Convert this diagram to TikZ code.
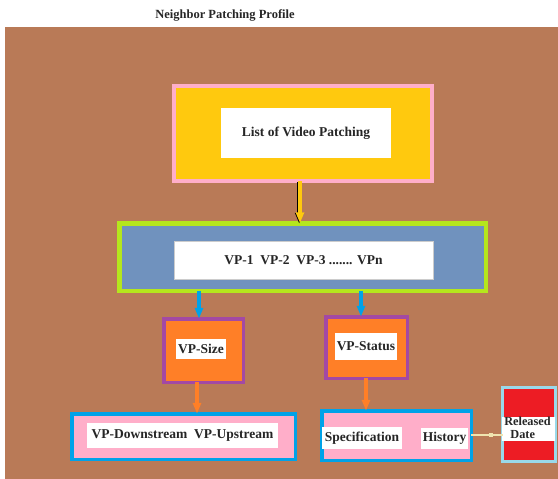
\documentclass[tikz,border=0pt]{standalone}
\usepackage{fontspec}
\setmainfont{Liberation Serif}
\usetikzlibrary{arrows.meta,decorations.markings}

% palette
\definecolor{bgbrown}{HTML}{B97A57}
\definecolor{lightpink}{HTML}{FFAEC9}
\definecolor{gold}{HTML}{FFC90E}
\definecolor{lime}{HTML}{B5E61D}
\definecolor{bluegray}{HTML}{7092BE}
\definecolor{violet}{HTML}{A349A4}
\definecolor{tangerine}{HTML}{FF7F27}
\definecolor{turq}{HTML}{00A2E8}
\definecolor{signalred}{HTML}{ED1C24}
\definecolor{paleturq}{HTML}{99D9EA}
\definecolor{cream}{HTML}{EFE4B0}

\tikzset{
  lbl/.style={font=\fontsize{13.5}{15}\selectfont\bfseries, text=black!85},
  panel/.style={rectangle, inner sep=0pt, outer sep=0pt},
  whitebox/.style={panel, fill=white, lbl},
  flow/.style={line width=3.6pt, -{Triangle[length=11pt,width=8pt]}, shorten <=0pt},
}

\begin{document}
\begin{tikzpicture}[x=1pt, y=-1pt]
\useasboundingbox (0,0) rectangle (558,479);

% backdrop
\fill[bgbrown] (5,27) rectangle (558,479);

% heading
\node[lbl, font=\fontsize{12.5}{14}\selectfont\bfseries] (title) at (225,15) {Neighbor Patching Profile};

% list of video patching
\node[panel, draw=lightpink, line width=4pt, fill=gold,
      minimum width=258pt, minimum height=95pt] (list) at (303,133.5) {};
\node[whitebox, minimum width=170pt, minimum height=50pt] (listtxt) at (306,133)
  {List of Video Patching};

% VP sequence
\node[panel, draw=lime, line width=4.5pt, fill=bluegray,
      minimum width=366.5pt, minimum height=67.5pt] (seq) at (302.5,257) {};
\node[whitebox, draw=gray!40, line width=0.6pt, minimum width=259pt, minimum height=38pt] (seqtxt) at (303.5,260)
  {VP-1\ \ VP-2\ \ VP-3 ....... VPn};

% size and status
\node[panel, draw=violet, line width=3.5pt, fill=tangerine,
      minimum width=79.5pt, minimum height=63.5pt] (size) at (203.5,350.5) {};
\node[whitebox, minimum width=50pt, minimum height=20pt] (sizetxt) at (201,349) {VP-Size};

\node[panel, draw=violet, line width=3.5pt, fill=tangerine,
      minimum width=81.5pt, minimum height=61.5pt] (status) at (366.5,347.5) {};
\node[whitebox, minimum width=62pt, minimum height=27pt] (statustxt) at (366,346.5) {VP-Status};

% stream box
\node[panel, draw=turq, line width=3.5pt, fill=lightpink,
      minimum width=223.5pt, minimum height=45.5pt] (stream) at (183.5,436.5) {};
\node[whitebox, minimum width=191pt, minimum height=25pt] (streamtxt) at (182.5,435.5)
  {VP-Downstream\ \ VP-Upstream};

% specification / history box
\node[panel, draw=turq, line width=3.5pt, fill=lightpink,
      minimum width=149.5pt, minimum height=49.5pt] (spec) at (396.5,435.5) {};
\node[whitebox, minimum width=80pt, minimum height=22pt] (spectxt) at (362,438) {Specification};
\node[whitebox, minimum width=47pt, minimum height=21pt] (histtxt) at (444.5,438.5) {History};

% released date
\node[panel, draw=paleturq, line width=3pt, fill=signalred,
      minimum width=53pt, minimum height=74pt] (rel) at (529,424.5) {};
\node[panel, fill=white, minimum width=53pt, minimum height=24pt] (relband) at (528.5,428.5) {};
\node[lbl, font=\fontsize{12.3}{12.5}\selectfont\bfseries, align=left, inner sep=0pt] (reltxt) at (527.5,428)
  {Released\\\hspace*{0.5em}Date};

% connectors
\draw[flow, black, transform canvas={xshift=-0.8pt, yshift=-0.5pt}]
  ([xshift=-3pt]list.south) -- ([xshift=-3pt]list.south |- seq.north);
\draw[flow, gold] ([xshift=-3pt]list.south) -- ([xshift=-3pt]list.south |- seq.north);

\draw[flow, turq] ([xshift=-4.5pt]size.north |- seq.south) -- ([xshift=-4.5pt]size.north);
\draw[flow, turq] ([xshift=-5.5pt]status.north |- seq.south) -- ([xshift=-5.5pt]status.north);

\draw[flow, tangerine] ([xshift=-6.5pt]size.south) -- ([xshift=-6.5pt]size.south |- stream.north);
\draw[flow, tangerine] ([xshift=-0.5pt]status.south) -- ([xshift=-0.5pt]status.south |- spec.north);

\coordinate (linkstart) at ([yshift=1pt]spec.east);
\draw[cream, line width=2pt,
      decoration={markings, mark=at position 0.62 with {\fill[cream] (-2pt,-2pt) rectangle (2pt,2pt);}},
      postaction=decorate]
  (linkstart) -- (linkstart -| rel.west);
\end{tikzpicture}
\end{document}
